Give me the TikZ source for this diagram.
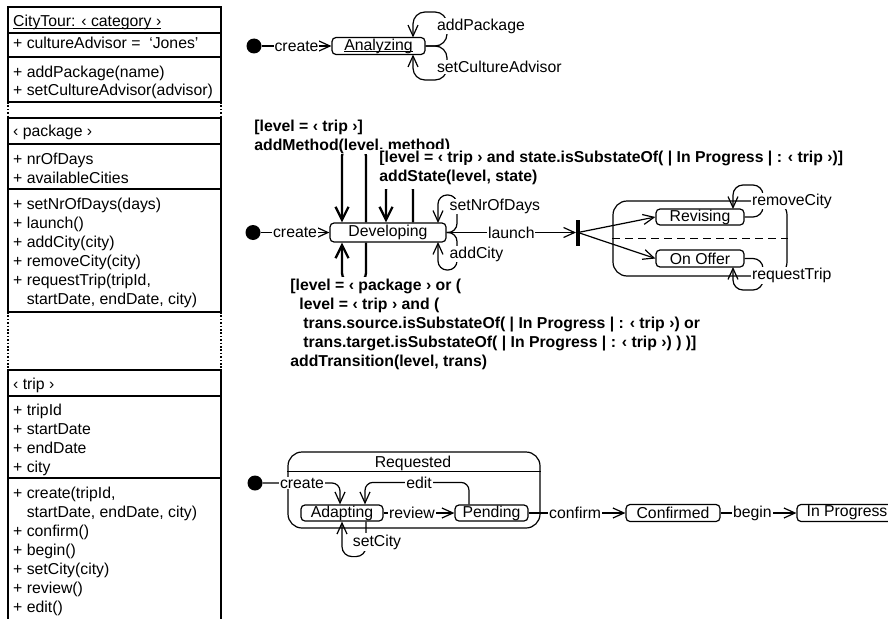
\documentclass[tikz,border=0pt]{standalone}
\usepackage{fontspec}
\setmainfont{Liberation Sans}
\usetikzlibrary{arrows.meta}
\newcommand{\fs}{\fontsize{15.8}{19}\selectfont}
\begin{document}
\begin{tikzpicture}[x=1pt,y=-1pt,
  cls/.style={font=\fs, inner sep=0pt, anchor=base west},
  clsline/.style={line width=1.6pt},
  dotline/.style={line width=1.6pt, dash pattern=on 1.6pt off 1.8pt},
  stt/.style={draw, rounded corners=4pt, line width=1.2pt, font=\fs, inner sep=0pt, minimum height=17pt},
  compst/.style={draw, rounded corners=14pt, line width=1.2pt, inner sep=0pt},
  initst/.style={circle, fill=black, inner sep=0pt, minimum size=15pt},
  lbl/.style={font=\fs, fill=white, inner sep=0.8pt},
  blbl/.style={font=\fs\bfseries, fill=white, inner sep=1.2pt, anchor=base west},
  tr/.style={line width=1.2pt, -{Straight Barb[length=11pt,width=10pt]}},
  btr/.style={line width=2.3pt, -{Straight Barb[length=13pt,width=13pt]}},
  forkbar/.style={fill=black, inner sep=0pt, minimum width=3.6pt, minimum height=26pt},
]
\useasboundingbox (0,0) rectangle (888,618);
\fill[white] (0,0) rectangle (888,618);

% ---------------- class boxes ----------------
\draw[clsline] (8,7) rectangle (221,102);
\draw[clsline] (8,33) -- (221,33);
\draw[clsline] (8,57) -- (221,57);
\draw[dotline] (8,102) -- (8,118);
\draw[dotline] (221,102) -- (221,118);
\draw[clsline] (8,118) rectangle (221,312);
\draw[clsline] (8,144) -- (221,144);
\draw[clsline] (8,189) -- (221,189);
\draw[dotline] (8,312) -- (8,370);
\draw[dotline] (221,312) -- (221,370);
\draw[clsline] (8,620) -- (8,370) -- (221,370) -- (221,620);
\draw[clsline] (8,396) -- (221,396);
\draw[clsline] (8,478) -- (221,478);

\node[cls] (c1) at (13,26.5) {CityTour: ‹ category ›};
\draw[line width=0.9pt] ([yshift=-1.6pt]c1.base west) -- ([yshift=-1.6pt]c1.base east);
\node[cls] (c2) at (13,48.5) {+ cultureAdvisor =\ \ ‘Jones’};
\node[cls] (c3) at (13,77.5) {+ addPackage(name)};
\node[cls] (c4) at (13,95.5) {+ setCultureAdvisor(advisor)};

\node[cls] (p1) at (13,136.5) {‹ package ›};
\node[cls] (p2) at (13,164.5) {+ nrOfDays};
\node[cls] (p3) at (13,183.5) {+ availableCities};
\node[cls] (p4) at (13,209.5) {+ setNrOfDays(days)};
\node[cls] (p5) at (13,228.5) {+ launch()};
\node[cls] (p6) at (13,247.5) {+ addCity(city)};
\node[cls] (p7) at (13,266.5) {+ removeCity(city)};
\node[cls] (p8) at (13,285.5) {+ requestTrip(tripId,};
\node[cls] (p9) at (13,304.5) {\phantom{+ }startDate, endDate, city)};

\node[cls] (t1) at (13,389.5) {‹ trip ›};
\node[cls] (t2) at (13,415.5) {+ tripId};
\node[cls] (t3) at (13,434.5) {+ startDate};
\node[cls] (t4) at (13,453.5) {+ endDate};
\node[cls] (t5) at (13,472.5) {+ city};
\node[cls] (t6) at (13,498.5) {+ create(tripId,};
\node[cls] (t7) at (13,517.5) {\phantom{+ }startDate, endDate, city)};
\node[cls] (t8) at (13,536.5) {+ confirm()};
\node[cls] (t9) at (13,555.5) {+ begin()};
\node[cls] (t10) at (13,574.5) {+ setCity(city)};
\node[cls] (t11) at (13,593.5) {+ review()};
\node[cls] (t12) at (13,612.5) {+ edit()};

% ---------------- top: Analyzing ----------------
\node[initst] (i1) at (254,46) {};
\node[stt, minimum width=93pt] (An) at (378.5,46) {};
\node[font=\fs, inner sep=0pt] (AnT) at (An.center) {Analyzing};
\draw[line width=0.9pt] ([yshift=-1.6pt]AnT.base west) -- ([yshift=-1.6pt]AnT.base east);
\draw[tr] (i1) -- node[lbl] (lcr1) {create} (An);
\draw[tr, rounded corners=12pt] (An.east) -- (447,46) -- (447,12) -- (413,12) -- (413,37.5);
\draw[tr, rounded corners=12pt] (An.east) -- (447,46) -- (447,80) -- (413,80) -- (413,54.5);
\node[lbl, anchor=west] (lap) at (436,26) {addPackage};
\node[lbl, anchor=west] (lsca) at (436,67) {setCultureAdvisor};

% ---------------- middle: Developing ----------------
\node[initst] (i2) at (253,232.5) {};
\node[stt, minimum width=116pt, minimum height=19pt] (Dev) at (388,232.5) {Developing};
\node[forkbar] (fork) at (578,232.5) {};
\node[compst, minimum width=174pt, minimum height=75pt] (Comp) at (700,238.5) {};
\draw[line width=1.2pt, dash pattern=on 8pt off 5pt] (Comp.west) -- (Comp.east);
\node[stt, minimum width=88pt, minimum height=16pt] (Rev) at (700,217) {Revising};
\node[stt, minimum width=88pt] (Off) at (700,258.5) {On Offer};

\draw[tr] (i2) -- node[lbl] (lcr2) {create} (Dev);
\draw[tr] (Dev) -- node[lbl] (lla) {launch} (fork);
\draw[tr] (fork) -- (Rev.west);
\draw[tr] (fork) -- (Off.west);

\draw[tr, rounded corners=9pt] (Dev.east) -- (457,232.5) -- (457,195) -- (438,195) -- (438,223);
\draw[tr, rounded corners=9pt] (Dev.east) -- (457,232.5) -- (457,270) -- (438,270) -- (438,242);
\node[lbl, anchor=west, inner sep=0.5pt] (lsn) at (449,206.5) {setNrOfDays};
\node[lbl, anchor=west, inner sep=0.5pt] (lac) at (449,254) {addCity};

\draw[tr, rounded corners=10pt] (Rev.east) -- (763,217) -- (763,185) -- (733,185) -- (733,209);
\draw[tr, rounded corners=10pt] (Off.east) -- (763,258.5) -- (763,290) -- (733,290) -- (733,267);
\node[lbl, anchor=west] (lrc) at (751,201) {removeCity};
\node[lbl, anchor=west] (lrt) at (751,275.5) {requestTrip};

% bold loops
\draw[btr, rounded corners=9pt] ([xshift=-22pt]Dev.north) -- (366,147) -- (342,147) -- ([xshift=-46pt]Dev.north);
\draw[btr, rounded corners=10pt] ([xshift=25pt]Dev.north) -- (413,180) -- (386,180) -- ([xshift=-2pt]Dev.north);
\draw[btr, rounded corners=9pt] ([xshift=-22pt]Dev.south) -- (366,282) -- (342,282) -- ([xshift=-46pt]Dev.south);

\node[blbl] (g1) at (253,131) {[level = ‹ trip ›]};
\node[blbl] (a1) at (253,150) {addMethod(level, method)};
\node[blbl] (g2) at (378,162) {[level = ‹ trip › and state.isSubstateOf( | In Progress | : ‹ trip ›)]};
\node[blbl, inner ysep=4.5pt] (a2) at (378,181) {addState(level, state)};
\node[blbl, inner ysep=2pt] (g3) at (289,290.5) {[level = ‹ package › or (};
\node[blbl] (g4) at (298,309.5) {level = ‹ trip › and (};
\node[blbl] (g5) at (302,328.5) {trans.source.isSubstateOf( | In Progress | : ‹ trip ›) or};
\node[blbl] (g6) at (302,347.5) {trans.target.isSubstateOf( | In Progress | : ‹ trip ›) ) )]};
\node[blbl] (a3) at (289,366.5) {addTransition(level, trans)};

% ---------------- bottom: trip ----------------
\node[compst, minimum width=252pt, minimum height=76pt] (Req) at (414,490) {};
\draw[line width=1.2pt] ([yshift=-20pt]Req.north west) -- ([yshift=-20pt]Req.north east);
\node[font=\fs, inner sep=0pt, anchor=base] (ReqT) at (413,467) {Requested};
\node[initst] (i3) at (255,483) {};
\node[stt, minimum width=82pt, minimum height=16pt] (Ad) at (342,513) {Adapting};
\node[stt, minimum width=73pt, minimum height=16pt] (Pe) at (491.5,513) {Pending};
\node[stt, minimum width=94pt] (Co) at (673,513) {Confirmed};
\node[stt, minimum width=100pt] (IP) at (847,513) {In Progress};

\draw[tr, rounded corners=8pt] (i3) -| ([xshift=-2pt]Ad.north);
\node[lbl] (lcr3) at (302,483) {create};
\draw[tr, rounded corners=8pt] ([xshift=-22.5pt]Pe.north) -- ++(0,-22) -| ([xshift=23pt]Ad.north);
\node[lbl] (led) at (419,483) {edit};
\draw[tr] (Ad) -- node[lbl, pos=0.4] (lrv) {review} (Pe);
\draw[tr, rounded corners=10pt] ([xshift=24pt]Ad.south) -- ++(0,35) -| (Ad.south);
\node[lbl, inner sep=1.5pt] (lsc) at (377,542) {setCity};
\draw[tr] (Pe) -- node[lbl, pos=0.48] (lcf) {confirm} (Co);
\draw[tr] (Co) -- node[lbl, pos=0.42] (lbg) {begin} (IP);
\end{tikzpicture}
\end{document}
